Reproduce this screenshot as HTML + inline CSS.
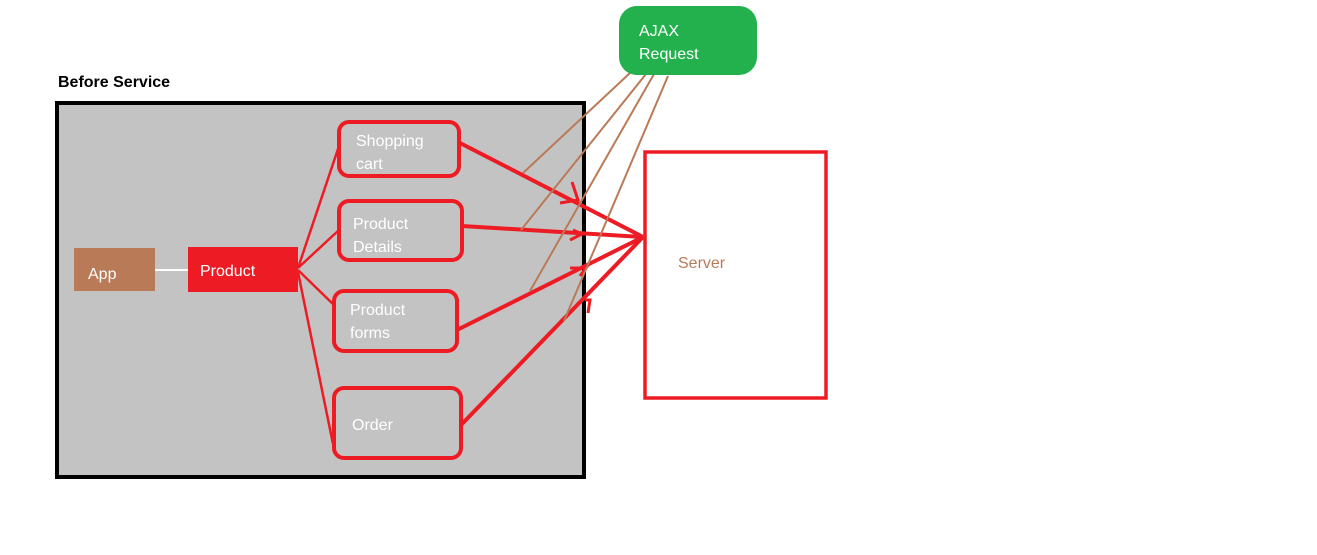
<!DOCTYPE html>
<html><head><meta charset="utf-8"><style>
body{margin:0;background:#fff;}
svg{display:block;}
text{font-family:"Liberation Sans",sans-serif;font-size:16px;}
</style></head><body>
<svg width="1317" height="555" viewBox="0 0 1317 555">
<rect width="1317" height="555" fill="#fff"/>
<text x="58" y="87" fill="#000" font-weight="bold">Before Service</text>
<rect x="57" y="103" width="527" height="374" fill="#c3c3c3" stroke="#000" stroke-width="4"/>
<rect x="74" y="248" width="81" height="43" fill="#b97a57"/>
<text x="88" y="279" fill="#fff">App</text>
<line x1="155" y1="270" x2="190" y2="270" stroke="#fff" stroke-width="2"/>
<rect x="188" y="247" width="110" height="45" fill="#ed1c24"/>
<text x="200" y="276" fill="#fff">Product</text>
<g stroke="#ed1c24" stroke-width="2.5" fill="none">
<line x1="298" y1="268" x2="339" y2="146"/>
<line x1="298" y1="268" x2="339" y2="230"/>
<line x1="298" y1="270" x2="335" y2="306"/>
<line x1="298" y1="272" x2="333" y2="444"/>
</g>
<g fill="#c3c3c3" stroke="#ed1c24" stroke-width="4">
<rect x="339" y="122" width="120" height="54" rx="10"/>
<rect x="339" y="201" width="123" height="59" rx="10"/>
<rect x="334" y="291" width="123" height="60" rx="10"/>
<rect x="334" y="388" width="127" height="70" rx="10"/>
</g>
<g fill="#fff">
<text x="356" y="146">Shopping</text>
<text x="356" y="169">cart</text>
<text x="353" y="229">Product</text>
<text x="353" y="252">Details</text>
<text x="350" y="315">Product</text>
<text x="350" y="338">forms</text>
<text x="352" y="430">Order</text>
</g>
<rect x="645" y="152" width="181" height="246" fill="#fff" stroke="#ed1c24" stroke-width="3.5"/>
<text x="678" y="268" fill="#b97a57">Server</text>
<g stroke="#ed1c24" stroke-width="4" fill="none">
<line x1="460" y1="143" x2="643" y2="237"/>
<line x1="462" y1="226" x2="643" y2="237"/>
<line x1="457" y1="330" x2="643" y2="237"/>
<line x1="461" y1="425" x2="643" y2="237"/>
<path d="M572 182 L578 200 L560 203" stroke-width="3"/>
<path d="M573 230 L582 234 L570 240" stroke-width="3"/>
<path d="M570 268 L586 268 L580 276" stroke-width="3"/>
<path d="M585 300 L590 300 L588 313" stroke-width="3"/>
</g>
<g stroke="#b97a57" stroke-width="2">
<line x1="630" y1="73" x2="523" y2="173"/>
<line x1="646" y1="74" x2="521" y2="230"/>
<line x1="654" y1="74" x2="530" y2="291"/>
<line x1="668" y1="76" x2="564" y2="321"/>
</g>
<rect x="619" y="6" width="138" height="69" rx="18" fill="#22b14c"/>
<text x="639" y="36" fill="#fff">AJAX</text>
<text x="639" y="59" fill="#fff">Request</text>
</svg>
</body></html>
